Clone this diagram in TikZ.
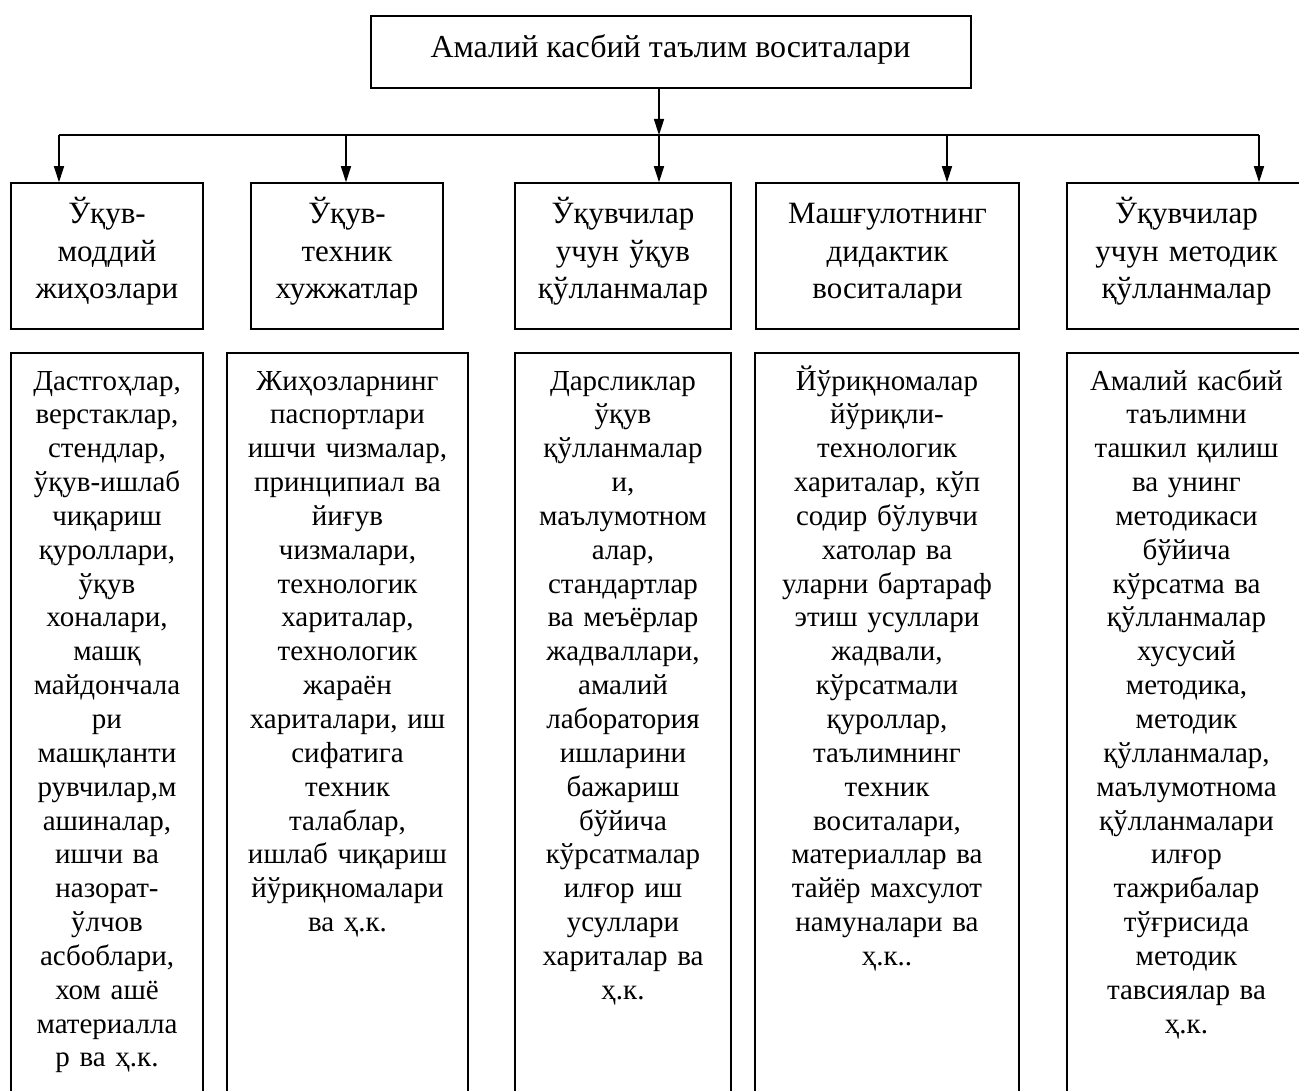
\documentclass[tikz,border=0pt]{standalone}
\usepackage{fontspec}
\setmainfont{Liberation Serif}
\usetikzlibrary{arrows.meta}
\begin{document}
\begin{tikzpicture}[x=1pt,y=-1pt,
  frame/.style={draw, line width=1.6pt, inner sep=0pt},
  titletext/.style={font=\fontsize{32}{38}\selectfont, inner sep=0pt, anchor=base},
  hdrtext/.style={font=\fontsize{31}{37.5}\selectfont, align=center, inner sep=0pt, anchor=base, text width=#1},
  bodytext/.style={font=\fontsize{29}{33.85}\selectfont, align=center, inner sep=0pt, anchor=base, text width=#1},
  link/.style={line width=1.6pt},
  arr/.style={line width=1.6pt, -{Triangle[length=16pt,width=10pt]}}]
\useasboundingbox (0,0) rectangle (1299,1091);
\clip (0,0) rectangle (1299,1091);
\fill[white] (0,0) rectangle (1299,1091);

% top box
\node[frame, minimum width=600pt, minimum height=72pt] (top) at (671,52) {};
\node[titletext] (toptext) at (670.5,58) {Амалий касбий таълим воситалари};

% header boxes
\node[frame, minimum width=192pt, minimum height=146pt] (h1) at (107,256) {};
\node[frame, minimum width=192pt, minimum height=146pt] (h2) at (347,256) {};
\node[frame, minimum width=216pt, minimum height=146pt] (h3) at (623,256) {};
\node[frame, minimum width=263pt, minimum height=146pt] (h4) at (887.5,256) {};
\node[frame, minimum width=239pt, minimum height=146pt] (h5) at (1186.5,256) {};

\node[hdrtext=190pt] (ht1) at (107,224) {Ўқув-\\моддий\\жиҳозлари};
\node[hdrtext=190pt] (ht2) at (347,224) {Ўқув-\\техник\\хужжатлар};
\node[hdrtext=214pt] (ht3) at (623,224) {Ўқувчилар\\учун ўқув\\қўлланмалар};
\node[hdrtext=260pt] (ht4) at (887.5,224) {Машғулотнинг\\дидактик\\воситалари};
\node[hdrtext=236pt] (ht5) at (1186.5,224) {Ўқувчилар\\учун методик\\қўлланмалар};

% content boxes (open at the bottom edge of the picture)
\node[frame, minimum width=192pt, minimum height=760pt, anchor=north] (b1) at (107,352) {};
\node[frame, minimum width=241pt, minimum height=760pt, anchor=north] (b2) at (347.5,352) {};
\node[frame, minimum width=216pt, minimum height=760pt, anchor=north] (b3) at (623,352) {};
\node[frame, minimum width=264pt, minimum height=760pt, anchor=north] (b4) at (887,352) {};
\node[frame, minimum width=239pt, minimum height=760pt, anchor=north] (b5) at (1186.5,352) {};

\node[bodytext=190pt] (bt1) at (b1.north |- 0,390) {Дастгоҳлар,\\верстаклар,\\стендлар,\\ўқув-ишлаб\\чиқариш\\қуроллари,\\ўқув\\хоналари,\\машқ\\майдончала\\ри\\машқланти\\рувчилар,м\\ашиналар,\\ишчи ва\\назорат-\\ўлчов\\асбоблари,\\хом ашё\\материалла\\р ва ҳ.к.};
\node[bodytext=238pt] (bt2) at (b2.north |- 0,390) {Жиҳозларнинг\\паспортлари\\ишчи чизмалар,\\принципиал ва\\йиғув\\чизмалари,\\технологик\\хариталар,\\технологик\\жараён\\хариталари, иш\\сифатига\\техник\\талаблар,\\ишлаб чиқариш\\йўриқномалари\\ва ҳ.к.};
\node[bodytext=214pt] (bt3) at (b3.north |- 0,390) {Дарсликлар\\ўқув\\қўлланмалар\\и,\\маълумотном\\алар,\\стандартлар\\ва меъёрлар\\жадваллари,\\амалий\\лаборатория\\ишларини\\бажариш\\бўйича\\кўрсатмалар\\илғор иш\\усуллари\\хариталар ва\\ҳ.к.};
\node[bodytext=262pt] (bt4) at (b4.north |- 0,390) {Йўриқномалар\\йўриқли-\\технологик\\хариталар, кўп\\содир бўлувчи\\хатолар ва\\уларни бартараф\\этиш усуллари\\жадвали,\\кўрсатмали\\қуроллар,\\таълимнинг\\техник\\воситалари,\\материаллар ва\\тайёр махсулот\\намуналари ва\\ҳ.к..};
\node[bodytext=236pt] (bt5) at (b5.north |- 0,390) {Амалий касбий\\таълимни\\ташкил қилиш\\ва унинг\\методикаси\\бўйича\\кўрсатма ва\\қўлланмалар\\хусусий\\методика,\\методик\\қўлланмалар,\\маълумотнома\\қўлланмалари\\илғор\\тажрибалар\\тўғрисида\\методик\\тавсиялар ва\\ҳ.к.};

% connectors
\coordinate (j1) at (59,135);
\coordinate (j2) at (346,135);
\coordinate (j3) at (659,135);
\coordinate (j4) at (947,135);
\coordinate (j5) at (1259,135);
\draw[arr] (top.south -| j3) -- (j3);
\draw[link] (j1) -- (j5);
\draw[arr] (j1) -- (j1 |- h1.north);
\draw[arr] (j2) -- (j2 |- h2.north);
\draw[arr] (j3) -- (j3 |- h3.north);
\draw[arr] (j4) -- (j4 |- h4.north);
\draw[arr] (j5) -- (j5 |- h5.north);
\end{tikzpicture}
\end{document}
